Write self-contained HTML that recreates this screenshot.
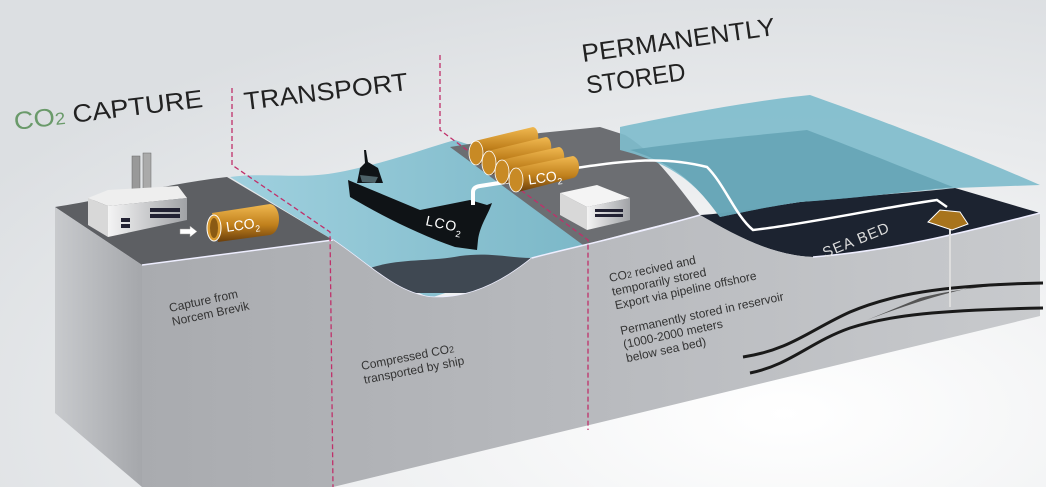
<!DOCTYPE html>
<html><head><meta charset="utf-8"><style>
html,body{margin:0;padding:0;width:1046px;height:487px;overflow:hidden;background:#e6e8ea}
svg{display:block}
text{font-family:"Liberation Sans",sans-serif}
</style></head><body>
<svg width="1046" height="487" viewBox="0 0 1046 487">
<defs>
<radialGradient id="bg" cx="0.75" cy="0.85" r="0.9">
<stop offset="0" stop-color="#ffffff"/><stop offset="1" stop-color="#dcdfe2"/></radialGradient>
<linearGradient id="front" x1="0" y1="0" x2="1" y2="0">
<stop offset="0" stop-color="#a9abaf"/><stop offset="0.5" stop-color="#b8babe"/><stop offset="1" stop-color="#c8cacd"/></linearGradient>
<linearGradient id="left" x1="0" y1="0" x2="1" y2="0">
<stop offset="0" stop-color="#c8cacd"/><stop offset="1" stop-color="#a5a7ab"/></linearGradient>
<linearGradient id="tank" x1="0" y1="0" x2="0" y2="1">
<stop offset="0" stop-color="#f0b850"/><stop offset="0.55" stop-color="#c0801c"/><stop offset="1" stop-color="#6a3e0c"/></linearGradient>
<linearGradient id="sea" x1="0" y1="0" x2="1" y2="0">
<stop offset="0" stop-color="#9fd0de"/><stop offset="1" stop-color="#7cb8c8"/></linearGradient>
<linearGradient id="bld" x1="0" y1="0" x2="1" y2="0">
<stop offset="0" stop-color="#f4f4f4"/><stop offset="1" stop-color="#a0a2a6"/></linearGradient>
</defs>
<rect width="1046" height="487" fill="url(#bg)"/>

<!-- transport water -->
<path d="M230,177 C270,172 300,180 340,172 C390,162 420,150 455,140 L470,145 L583,245 L530,258 L500,275 L430,298 L380,275 L333,240 Z" fill="url(#sea)"/>
<path d="M370,268 C400,258 430,262 460,256 C490,252 510,258 532,258 C515,275 500,290 497,293 L407,293 Z" fill="#3f4852"/>
<path d="M333,240 C370,265 395,292 430,297 C470,300 505,280 532,258" fill="none" stroke="#eef" stroke-width="1.5"/>

<!-- storage land top -->
<path d="M450,147 L540,133 L600,127 L625,135 C650,150 670,175 700,215 L640,230 L583,245 Z" fill="#6c6e72"/>

<!-- seabed dark -->
<path d="M700,215 C720,214 760,208 800,202 C860,196 920,192 955,188 L1040,213 C980,228 900,250 813,257 C770,255 735,235 700,215 Z" fill="#1c2330"/>

<!-- sea surface translucent -->
<path d="M620,127 C690,112 760,100 810,95 C880,120 960,150 1040,185 L955,188 C900,192 860,198 800,202 C760,208 735,214 720,217 C700,190 680,165 620,150 Z" fill="#7fbccc" opacity="0.92"/>
<path d="M630,150 C700,140 760,135 807,130 C860,150 910,170 953,187 C900,192 860,198 800,202 C760,208 735,214 720,217 C700,190 680,165 630,150 Z" fill="#5f9fb0" opacity="0.75"/>

<!-- capture top -->
<path d="M55,207 C100,200 180,182 227,177 L333,240 L142,265 Z" fill="#5d5f63"/>

<!-- left face -->
<path d="M55,207 L142,265 L142,487 L55,413 Z" fill="url(#left)"/>
<!-- front face -->
<path d="M142,265 L333,240 C370,265 395,292 430,297 C470,300 505,280 532,258 C560,250 620,238 700,215 C735,235 770,255 813,257 C900,250 980,228 1040,213 L1040,316 L333,487 L142,487 Z" fill="url(#front)"/>
<path d="M142,265 L333,240 M532,258 C560,250 620,238 700,215 M813,257 C900,250 980,228 1040,213" fill="none" stroke="#eef" stroke-width="1.5"/>

<!-- reservoir layers -->
<path d="M867,320 C920,300 960,288 1000,283 L1043,283 C990,285 950,290 920,298 Z" fill="#555"/>
<path d="M743,357 C790,350 810,330 850,312 C890,295 940,285 1043,283" fill="none" stroke="#1a1a1a" stroke-width="3"/>
<path d="M750,373 C790,365 810,342 850,328 C890,315 940,310 1043,308" fill="none" stroke="#1a1a1a" stroke-width="3"/>

<!-- pipeline -->
<path d="M575,168 C620,162 660,155 707,167 C725,185 735,215 753,230 C800,225 880,208 937,200 L947,207" fill="none" stroke="#fff" stroke-width="2.5"/>
<path d="M950,228 L950,307" stroke="#ddd" stroke-width="2"/>
<path d="M928,222 L940,210 L960,212 L968,224 L952,230 Z" fill="#a8741c" stroke="#fff" stroke-width="1"/>
<text x="0" y="0" transform="translate(825,258) rotate(-22)" font-size="15" fill="#ddd" letter-spacing="1">SEA BED</text>

<!-- dashed lines -->
<path d="M232,88 L232,165 L330,232 L333,487" fill="none" stroke="#c0306a" stroke-width="1.3" stroke-dasharray="5,3"/>
<path d="M440,55 L440,130 L588,240 L588,430" fill="none" stroke="#c0306a" stroke-width="1.3" stroke-dasharray="5,3"/>

<!-- factory -->
<rect x="132" y="156" width="8" height="40" fill="#999" stroke="#666" stroke-width="0.5"/>
<rect x="143" y="153" width="8" height="42" fill="#aaa" stroke="#666" stroke-width="0.5"/>
<path d="M88,198 L108,190 L178,186 L187,198 L108,206 Z" fill="#eee"/>
<path d="M88,198 L108,206 L108,237 L88,225 Z" fill="#d8d8d8"/>
<path d="M108,206 L187,198 L187,220 L108,237 Z" fill="url(#bld)"/>
<g fill="#223"><rect x="150" y="208" width="30" height="4"/><rect x="150" y="214" width="30" height="4"/><rect x="121" y="218" width="9" height="4"/><rect x="121" y="224" width="9" height="4"/></g>
<path d="M180,229 L190,229 L190,226 L197,231.5 L190,237 L190,234 L180,234 Z" fill="#fff" stroke="#999" stroke-width="0.5"/>
<!-- capture tank -->
<path d="M212,213 L270,204 C282,206 282,232 270,235 L218,242 Z" fill="url(#tank)"/>
<ellipse cx="214" cy="228" rx="7" ry="13" fill="#d89a30" stroke="#fff" stroke-width="1"/>
<ellipse cx="214" cy="228" rx="4" ry="10" fill="#8a5a14"/>
<text x="226" y="230" font-size="14" fill="#fff" transform="rotate(-8 240 226)">LCO<tspan font-size="9" dy="4">2</tspan></text>

<!-- ship -->
<path d="M348,180 L420,210 L470,200 L487,205 L492,203 C488,215 480,225 478,240 L477,250 L455,247 C420,235 380,215 350,197 Z" fill="#0f1316"/>
<path d="M357,183 L360,168 L365,163 L364,150 L366,150 L368,162 L378,168 L383,183 Z" fill="#0f1316"/>
<path d="M360,175 L378,177 L375,183 L362,182 Z" fill="#4d6268"/>
<text x="0" y="0" transform="translate(425,225) rotate(12)" font-size="14" fill="#fff" letter-spacing="1">LCO<tspan font-size="9" dy="5">2</tspan></text>
<path d="M473,205 L473,192 Q473,187 480,186 L518,180" fill="none" stroke="#fff" stroke-width="4"/>

<!-- storage tanks -->
<g>
<path d="M475,141 L533,127 C540,128 540,146 533,148 L478,165 Z" fill="url(#tank)"/><ellipse cx="476" cy="153" rx="7" ry="12" fill="#c88a25" stroke="#fff" stroke-width="0.8"/>
<path d="M488,151 L546,137 C553,138 553,156 546,158 L491,175 Z" fill="url(#tank)"/><ellipse cx="489" cy="163" rx="7" ry="12" fill="#c88a25" stroke="#fff" stroke-width="0.8"/>
<path d="M501,160 L559,147 C566,148 566,166 559,168 L504,184 Z" fill="url(#tank)"/><ellipse cx="502" cy="172" rx="7" ry="12" fill="#c88a25" stroke="#fff" stroke-width="0.8"/>
<path d="M515,168 L573,156 C581,158 581,176 573,178 L518,192 Z" fill="url(#tank)"/><ellipse cx="516" cy="180" rx="7" ry="12" fill="#c88a25" stroke="#fff" stroke-width="0.8"/>
<text x="528" y="183" font-size="14" fill="#fff" transform="rotate(-8 540 178)">LCO<tspan font-size="9" dy="4">2</tspan></text>
</g>
<!-- storage building -->
<path d="M560,193 L597,185 L630,198 L587,207 Z" fill="#f4f4f4"/>
<path d="M560,193 L587,207 L587,230 L560,215 Z" fill="#d8d8d8"/>
<path d="M587,207 L630,198 L630,220 L587,230 Z" fill="url(#bld)"/>
<g fill="#223"><rect x="595" y="209" width="28" height="3"/><rect x="595" y="214" width="28" height="3"/></g>

<!-- titles -->
<g transform="rotate(-7 15 130)"><text x="15" y="130" font-size="25" fill="#222" textLength="190" lengthAdjust="spacingAndGlyphs"><tspan fill="#6a9a6a">CO<tspan font-size="17">2</tspan></tspan> CAPTURE</text></g>
<g transform="rotate(-7 245 110)"><text x="245" y="110" font-size="25" fill="#222" textLength="165" lengthAdjust="spacingAndGlyphs">TRANSPORT</text></g>
<g transform="rotate(-8 583 62)"><text x="583" y="62" font-size="25" fill="#222" textLength="195" lengthAdjust="spacingAndGlyphs">PERMANENTLY</text><text x="583" y="94" font-size="25" fill="#222" textLength="100" lengthAdjust="spacingAndGlyphs">STORED</text></g>

<!-- labels -->
<g font-size="12" fill="#333">
<g transform="rotate(-12 170 312)"><text x="170" y="312">Capture from</text><text x="170" y="326">Norcem Brevik</text></g>
<g transform="rotate(-11 362 370)"><text x="362" y="370">Compressed CO<tspan font-size="9">2</tspan></text><text x="362" y="384">transported by ship</text></g>
<g transform="rotate(-12 610 282)"><text x="610" y="282">CO<tspan font-size="9">2</tspan> recived and</text><text x="610" y="296">temporarily stored</text><text x="610" y="310">Export via pipeline offshore</text><text x="610" y="336">Permanently stored in reservoir</text><text x="610" y="350">(1000-2000 meters</text><text x="610" y="364">below sea bed)</text></g>
</g>
</svg>
</body></html>
